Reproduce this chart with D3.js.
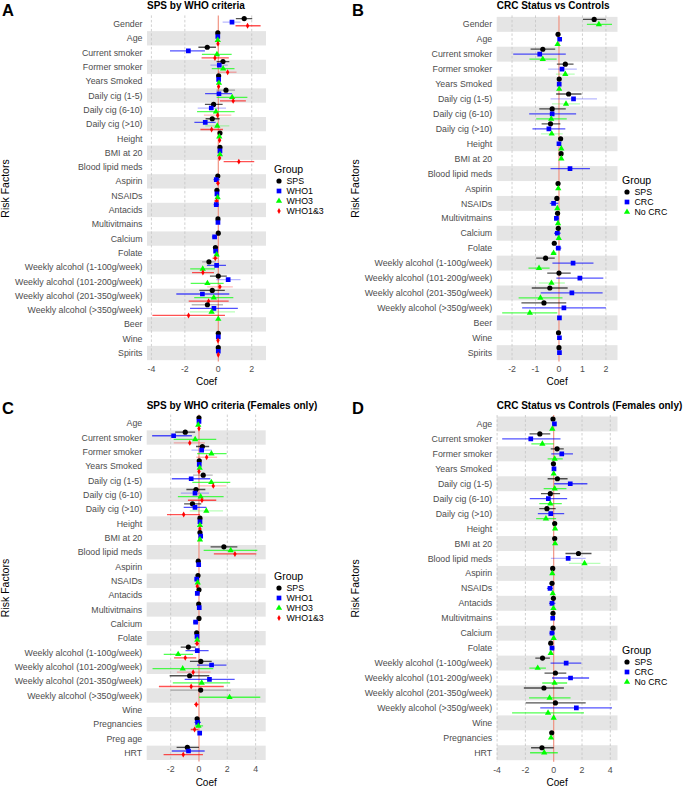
<!DOCTYPE html>
<html><head><meta charset="utf-8">
<script src="https://cdn.jsdelivr.net/npm/d3@7"></script>
<style>
body{margin:0;background:#fff}
svg{display:block}
text{font-family:"Liberation Sans",Arial,Helvetica,sans-serif}
</style>
</head><body><div id="chart"></div>
<script>
// ---------------- DATA ----------------
// entry: null = no row, NaN = row with missing estimate, number = estimate only, [est, lo, hi]
const catsA = ["Gender","Age","Current smoker","Former smoker","Years Smoked","Daily cig (1-5)","Daily cig (6-10)","Daily cig (>10)","Height","BMI at 20","Blood lipid meds","Aspirin","NSAIDs","Antacids","Multivitmains","Calcium","Folate","Weekly alcohol (1-100g/week)","Weekly alcohol (101-200g/week)","Weekly alcohol (201-350g/week)","Weekly alcohol (>350g/week)","Beer","Wine","Spirits"];
const groupsA = ["SPS","WHO1","WHO3","WHO1&3"];
const A_SPS = [[1.55,1.05,2.03],-0.03,[-0.66,-1.19,-0.14],[0.28,-0.1,0.66],0.02,[0.46,-0.11,1.0],[-0.28,-0.8,0.26],[-0.36,-0.76,0.08],0.1,0.1,null,-0.03,-0.08,null,-0.02,0.0,-0.17,[-0.56,-0.97,-0.16],[0.0,-0.5,0.51],[-0.36,-1.13,0.39],[-0.65,-1.59,0.28],null,0.0,0.0];
const A_WHO1 = [[0.82,0.26,1.33],-0.03,[-1.79,-2.89,-0.8],[0.06,-0.47,0.57],0.02,[0.04,-0.79,0.82],[-0.42,-1.23,0.46],[-0.78,-1.43,-0.16],null,0.1,null,[-0.12,-0.29,0.08],[-0.08,-0.18,0.02],[-0.12,-0.28,0.04],-0.02,[-0.22,-0.38,-0.08],[-0.16,-0.26,-0.06],[-0.1,-0.68,0.46],[0.59,-0.12,1.33],[-0.95,-2.51,0.66],[-0.26,-1.69,1.17],null,0.0,0.0];
const A_WHO3 = [null,-0.03,[-0.08,-0.98,0.8],[0.29,-0.39,0.97],0.04,[0.83,-0.1,1.74],[-0.14,-1.27,0.98],[-0.06,-0.78,0.66],0.06,0.1,null,null,[-0.04,-0.12,0.06],null,null,null,[-0.1,-0.2,0.0],[-0.93,-1.68,-0.2],[-0.65,-1.65,0.32],[-0.27,-1.44,0.9],[-0.4,-1.7,1.0],0.0,null,null];
const A_WHO13 = [[1.75,1.03,2.53],-0.02,[-0.2,-1.0,0.63],[0.56,0.0,1.09],0.02,[0.89,0.1,1.65],[-0.04,-0.86,0.78],[-0.4,-1.07,0.28],0.08,0.08,[1.23,0.32,2.15],[-0.02,-0.12,0.08],[-0.1,-0.24,0.02],null,null,null,[-0.18,-0.34,-0.04],[-0.92,-1.57,-0.26],[0.1,-0.66,0.87],[-0.58,-1.77,0.62],[-1.78,-3.94,0.4],null,-0.02,0.0];
const A_faint = {SPS:[5,17,20], WHO1:[0,3,6,18], WHO3:[7,20], "WHO1&3":[3,6,18]};

const catsB = ["Gender","Age","Current smoker","Former smoker","Years Smoked","Daily cig (1-5)","Daily cig (6-10)","Daily cig (>10)","Height","BMI at 20","Blood lipid meds","Aspirin","NSAIDs","Multivitmains","Calcium","Folate","Weekly alcohol (1-100g/week)","Weekly alcohol (101-200g/week)","Weekly alcohol (201-350g/week)","Weekly alcohol (>350g/week)","Beer","Wine","Spirits"];
const groupsB = ["SPS","CRC","No CRC"];
const B_SPS = [[1.5,1.02,2.0],-0.04,[-0.69,-1.21,-0.16],[0.27,-0.09,0.62],0.01,[0.41,-0.12,0.96],[-0.29,-0.84,0.29],[-0.36,-0.74,0.06],0.07,0.09,null,-0.04,-0.09,-0.06,-0.03,-0.2,[-0.57,-0.97,-0.18],[0.0,-0.5,0.5],[-0.39,-1.16,0.37],[-0.64,-1.6,0.31],null,-0.02,0.0];
const B_CRC = [null,0.03,[-0.82,-1.95,0.29],[0.13,-0.46,0.76],0.01,[0.62,-0.36,1.62],[-0.29,-1.27,0.73],[-0.43,-1.13,0.27],0.0,null,[0.47,-0.36,1.32],null,[-0.23,-0.39,-0.03],[-0.11,-0.21,0.0],[-0.07,-0.21,0.07],[-0.03,-0.14,0.1],[0.6,-0.28,1.47],[0.89,-0.11,1.89],[0.55,-0.78,1.86],[0.21,-1.57,2.0],0.02,0.02,0.02];
const B_NoCRC = [[1.7,1.19,2.26],-0.06,[-0.69,-1.26,-0.1],[0.27,-0.13,0.67],0.01,[0.3,-0.3,0.9],[-0.33,-0.97,0.33],[-0.31,-0.77,0.16],0.1,0.1,null,-0.03,-0.07,-0.04,-0.01,[-0.23,-0.33,-0.11],[-0.85,-1.3,-0.4],[-0.32,-0.86,0.25],[-0.79,-1.72,0.15],[-1.24,-2.42,-0.07],null,null,null];
const B_faint = {SPS:[], CRC:[3,5], "No CRC":[3,5,7,17]};

const catsC = ["Age","Current smoker","Former smoker","Years Smoked","Daily cig (1-5)","Daily cig (6-10)","Daily cig (>10)","Height","BMI at 20","Blood lipid meds","Aspirin","NSAIDs","Antacids","Multivitmains","Calcium","Folate","Weekly alcohol (1-100g/week)","Weekly alcohol (101-200g/week)","Weekly alcohol (201-350g/week)","Weekly alcohol (>350g/week)","Wine","Pregnancies","Preg age","HRT"];
const groupsC = ["SPS","WHO1","WHO3","WHO1&3"];
const C_SPS = [0.0,[-0.97,-1.68,-0.27],[0.24,-0.21,0.72],0.02,[0.3,-0.42,0.97],[-0.21,-0.89,0.45],[-0.46,-1.05,0.16],0.07,0.07,[1.76,0.82,2.71],-0.05,-0.07,0.0,-0.02,0.0,-0.16,[-0.75,-1.29,-0.23],[0.13,-0.64,0.9],[-0.66,-2.07,0.73],[0.12,-2.0,2.26],null,-0.13,null,[-0.82,-1.58,0.0]];
const C_WHO1 = [0.0,[-1.79,-3.31,-0.5],[0.19,-0.53,0.9],0.02,[-0.55,-1.92,0.8],[-0.28,-1.28,0.71],[-0.28,-1.08,0.52],0.07,0.12,null,-0.02,[-0.16,-0.3,0.0],[-0.12,-0.26,0.05],0.02,[-0.24,-0.42,-0.05],-0.14,[-0.12,-0.95,0.68],[0.89,-0.14,1.94],[0.74,-1.01,2.52],NaN,null,[-0.1,-0.32,0.14],0.05,[-0.74,-1.92,0.4]];
const C_WHO3 = [-0.05,[-0.27,-1.79,1.22],[0.88,-0.13,1.95],0.05,[0.87,-0.47,2.21],[0.12,-1.49,1.74],[0.52,-0.65,1.7],0.07,0.07,[2.24,0.33,4.12],null,-0.09,null,null,null,-0.12,[-1.47,-2.49,-0.42],[-1.15,-3.28,1.01],[0.19,-1.85,2.2],[2.16,0.0,4.33],null,[-0.04,-0.3,0.29],null,null];
const C_WHO13 = [0.0,[-0.65,-1.78,0.42],[0.54,-0.19,1.28],0.0,[1.01,0.01,1.94],[0.21,-0.78,1.22],[-1.08,-2.26,0.07],0.07,null,[2.54,1.05,4.05],null,-0.12,null,null,null,[-0.14,-0.3,0.0],[-0.97,-1.76,-0.19],[-0.41,-1.56,0.82],[-0.55,-2.83,1.75],null,[-0.19,-0.35,-0.02],[-0.31,-0.58,-0.05],null,[-1.11,-2.5,0.28]];
const C_faint = {SPS:[4,19], WHO1:[2,5], WHO3:[6], "WHO1&3":[1,2,4,17]};

const catsD = ["Age","Current smoker","Former smoker","Years Smoked","Daily cig (1-5)","Daily cig (6-10)","Daily cig (>10)","Height","BMI at 20","Blood lipid meds","Aspirin","NSAIDs","Antacids","Multivitmains","Calcium","Folate","Weekly alcohol (1-100g/week)","Weekly alcohol (101-200g/week)","Weekly alcohol (201-350g/week)","Weekly alcohol (>350g/week)","Wine","Pregnancies","HRT"];
const groupsD = ["SPS","CRC","No CRC"];
const D_SPS = [-0.05,[-0.98,-1.71,-0.24],[0.24,-0.21,0.71],-0.02,[0.26,-0.43,0.98],[-0.24,-0.9,0.45],[-0.48,-1.02,0.14],0.07,0.07,[1.75,0.83,2.67],-0.07,-0.12,-0.02,-0.05,-0.05,-0.21,[-0.79,-1.3,-0.27],[0.12,-0.65,0.89],[-0.69,-2.11,0.72],[0.12,-1.98,2.26],null,-0.14,[-0.83,-1.6,0.0]];
const D_CRC = [0.05,[-1.62,-3.64,0.48],[0.57,-0.17,1.36],0.02,[1.17,0.03,2.38],[-0.38,-1.69,0.95],[-0.21,-1.12,0.74],null,null,[1.02,-0.2,2.26],null,[-0.26,-0.48,-0.05],[-0.12,-0.33,0.12],-0.07,[-0.12,-0.31,0.07],[-0.12,-0.26,0.05],[0.88,-0.22,1.95],[1.19,-0.12,2.5],NaN,[1.6,-0.95,4.12],null,null,null];
const D_NoCRC = [-0.1,[-0.8,-1.58,0.0],[0.07,-0.43,0.64],0.0,[0.07,-0.71,0.9],[-0.24,-1.02,0.57],[-0.55,-1.24,0.17],0.1,0.1,[2.18,1.07,3.3],-0.1,-0.07,-0.02,null,0.0,-0.21,[-1.13,-1.72,-0.55],[0.06,-0.81,0.95],[-0.29,-1.74,1.19],[-0.4,-2.94,2.14],0.0,-0.19,[-0.67,-1.67,0.29]];
const D_faint = {SPS:[], CRC:[9], "No CRC":[9]};

const ticksA = [-4,-2,0,2];
const ticksB = [-2,-1,0,1,2];
const ticksC = [-2,0,2,4];
const ticksD = [-4,-2,0,2,4];

const titles = ["SPS by WHO criteria","CRC Status vs Controls","SPS by WHO criteria (Females only)","CRC Status vs Controls (Females only)"];
const panelLetters = ["A","B","C","D"];

// ---------------- STYLE ----------------
const colorOf = {"SPS":"#000000","WHO1":"#0000ff","CRC":"#0000ff","WHO3":"#00ff00","No CRC":"#00ff00","WHO1&3":"#ff0000"};
const shapeOf = {"SPS":"circle","WHO1":"square","CRC":"square","WHO3":"triangle","No CRC":"triangle","WHO1&3":"diamond"};

const W = 685, H = 786;
const svg = d3.select("#chart").append("svg").attr("width",W).attr("height",H);
svg.append("rect").attr("width",W).attr("height",H).attr("fill","#fff");

function symbolPath(shape){
  if(shape==="circle") return d3.symbol(d3.symbolCircle, 21)();
  if(shape==="square") return d3.symbol(d3.symbolSquare, 22)();
  if(shape==="triangle") return d3.symbol(d3.symbolTriangle, 17)();
  return d3.symbol(d3.symbolDiamond, 10)();
}

function norm(v){
  if(v===null) return null;
  if(typeof v==="number"){ return Number.isNaN(v) ? {est:NaN,lo:NaN,hi:NaN} : {est:v,lo:v,hi:v}; }
  return {est:v[0],lo:v[1],hi:v[2]};
}

let clipId = 0;
function drawPanel(p){
  const g = svg.append("g");
  const recs = [];
  const nG = p.groups.length;
  p.cats.forEach((c,i)=>{
    const present = [];
    p.series.forEach((s,k)=>{ if(s[i]!==null) present.push(k); });
    present.forEach((k,r)=>{
      const d = norm(p.series[k][i]);
      recs.push({cat:c, i, group:p.groups[k], ...d, off:((r+0.5)/nG-0.5), faint:(p.faint[p.groups[k]]||[]).includes(i)});
    });
  });
  const valid = recs.filter(r=>!Number.isNaN(r.est));
  const lo = d3.min(valid, r=>Math.min(r.lo,r.est)), hi = d3.max(valid, r=>Math.max(r.hi,r.est));
  const pad = (hi-lo)*0.05;
  const x = d3.scaleLinear().domain([lo-pad, hi+pad]).range([p.x0,p.x1]);
  const y = d3.scalePoint().domain(p.cats).range([p.y0,p.y1]).padding(0.6);
  const step = y.step();
  const nC = p.cats.length;

  // bands
  g.append("g").selectAll("rect").data(p.cats.filter((c,i)=>(nC-1-i)%2===0)).join("rect")
    .attr("x",p.x0).attr("width",p.x1-p.x0)
    .attr("y",c=>y(c)-step/2).attr("height",step).attr("fill","#e5e5e5");
  // grid
  g.append("g").selectAll("line").data(p.ticks.filter(t=>t!==0)).join("line")
    .attr("x1",t=>x(t)).attr("x2",t=>x(t)).attr("y1",p.y0).attr("y2",p.y1)
    .attr("stroke","#c4c4c4").attr("stroke-width",0.8).attr("stroke-dasharray","2.5,2");
  // zero line
  g.append("line").attr("x1",x(0)).attr("x2",x(0)).attr("y1",p.y0).attr("y2",p.y1)
    .attr("stroke","#f08a78").attr("stroke-width",1.1);

  clipId++;
  svg.append("clipPath").attr("id","clip"+clipId).append("rect")
    .attr("x",p.x0).attr("y",p.y0).attr("width",p.x1-p.x0).attr("height",p.y1-p.y0);
  const marks = g.append("g").attr("clip-path",`url(#clip${clipId})`);
  // error bars
  marks.selectAll("line.bar").data(valid.filter(r=>r.hi>r.lo)).join("line").attr("class","bar")
    .attr("x1",r=>x(r.lo)).attr("x2",r=>x(r.hi))
    .attr("y1",r=>y(r.cat)+r.off*step).attr("y2",r=>y(r.cat)+r.off*step)
    .attr("stroke",r=>colorOf[r.group]).attr("stroke-width",1.3)
    .attr("stroke-opacity",r=>r.faint?0.28:0.68);
  // points
  marks.selectAll("path.pt").data(valid).join("path").attr("class","pt")
    .attr("d",r=>symbolPath(shapeOf[r.group]))
    .attr("transform",r=>`translate(${x(r.est)},${y(r.cat)+r.off*step})`)
    .attr("fill",r=>colorOf[r.group]);

  // category labels
  g.append("g").selectAll("text").data(p.cats).join("text")
    .attr("x",p.x0-4.5).attr("y",c=>y(c)).attr("dy","0.35em")
    .attr("text-anchor","end").attr("font-size",8.8).attr("fill","#4d4d4d").text(c=>c);
  // tick labels
  g.append("g").selectAll("text").data(p.ticks).join("text")
    .attr("x",t=>x(t)).attr("y",p.y1+7.8).attr("dy","0.35em")
    .attr("text-anchor","middle").attr("font-size",8.8).attr("fill","#4d4d4d").text(t=>t);
  // axis titles
  g.append("text").attr("x",(p.x0+p.x1)/2).attr("y",p.coefY).attr("text-anchor","middle")
    .attr("font-size",10).attr("fill","#000").text("Coef");
  g.append("text").attr("transform",`translate(${p.ylabX},${(p.y0+p.y1)/2}) rotate(-90)`)
    .attr("text-anchor","middle").attr("font-size",10.5).attr("fill","#000").text("Risk Factors");
  // title
  g.append("text").attr("x",p.x0).attr("y",p.titleY).attr("font-size",10).attr("font-weight","bold")
    .attr("fill","#000").text(p.title);
  // letter
  g.append("text").attr("x",p.letterX).attr("y",p.letterY).attr("font-size",16.5).attr("font-weight","bold")
    .attr("fill","#000").text(p.letter);
  // legend
  const lg = g.append("g").attr("transform",`translate(${p.legX},${p.legY})`);
  lg.append("text").attr("x",0).attr("y",0).attr("dy","0.35em").attr("font-size",10.5).attr("fill","#000").text("Group");
  const items = lg.selectAll("g.it").data(p.groups).join("g").attr("class","it")
    .attr("transform",(d,k)=>`translate(0,${12+k*10})`);
  items.append("path").attr("d",d=>symbolPath(shapeOf[d])).attr("transform","translate(5,0)").attr("fill",d=>colorOf[d]);
  items.append("text").attr("x",12.5).attr("y",0).attr("dy","0.35em").attr("font-size",8.8).attr("fill","#000").text(d=>d);
}

drawPanel({cats:catsA, groups:groupsA, series:[A_SPS,A_WHO1,A_WHO3,A_WHO13], faint:A_faint, ticks:ticksA,
  x0:147, x1:266, y0:15.4, y1:361.6, title:titles[0], titleY:8.5, letter:panelLetters[0], letterX:2, letterY:16,
  ylabX:8.5, legX:274, legY:169, coefY:385});
drawPanel({cats:catsB, groups:groupsB, series:[B_SPS,B_CRC,B_NoCRC], faint:B_faint, ticks:ticksB,
  x0:496.7, x1:617.5, y0:15.4, y1:361.6, title:titles[1], titleY:8.5, letter:panelLetters[1], letterX:352, letterY:16,
  ylabX:358.5, legX:622, legY:180, coefY:385});
drawPanel({cats:catsC, groups:groupsC, series:[C_SPS,C_WHO1,C_WHO3,C_WHO13], faint:C_faint, ticks:ticksC,
  x0:146.7, x1:265.7, y0:414.6, y1:761.4, title:titles[2], titleY:408.5, letter:panelLetters[2], letterX:2, letterY:414,
  ylabX:8.5, legX:274, legY:576, coefY:785.5});
drawPanel({cats:catsD, groups:groupsD, series:[D_SPS,D_CRC,D_NoCRC], faint:D_faint, ticks:ticksD,
  x0:496.7, x1:617.5, y0:415, y1:761.7, title:titles[3], titleY:408.5, letter:panelLetters[3], letterX:352, letterY:414,
  ylabX:358.5, legX:622, legY:650, coefY:785.5});
</script>
</body></html>
